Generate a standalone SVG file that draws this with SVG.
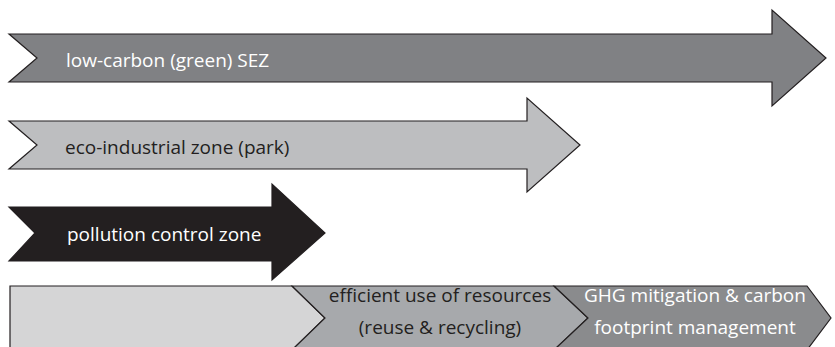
<svg xmlns="http://www.w3.org/2000/svg" width="835" height="347" viewBox="0 0 835 347">
<style>
.s{stroke:#231f20;stroke-width:1.2;stroke-linejoin:miter}
.t{font-family:"Open Sans","Noto Sans",sans-serif;font-size:19px}
.w{fill:#ffffff}
.d{fill:#231f20}
</style>
<rect width="835" height="347" fill="#ffffff"/>
<g id="arrow-lowcarbon">
<path class="s" fill="#808184" d="M9,34 H772 V10 L826,58 L772,106 V82 H9 L37,58 Z"/>
<text class="t w" x="66" y="67">low-carbon (green) SEZ</text>
</g>
<g id="arrow-ecoindustrial">
<path class="s" fill="#bdbec0" d="M9,121 H527 V98 L580,145 L527,192 V169 H9 L37,145 Z"/>
<text class="t d" x="65" y="154">eco-industrial zone (park)</text>
</g>
<g id="arrow-pollution">
<path class="s" fill="#231f20" d="M9,207 H272 V184 L325,233 L272,280 V261 H9 L35,233 Z"/>
<text class="t w" x="67" y="241">pollution control zone</text>
</g>
<g id="bar-base">
<path class="s" fill="#d5d5d6" d="M10,286 H292 L325,318 L292,350 H10 Z"/>
</g>
<g id="bar-efficient">
<path class="s" fill="#a7a9ac" d="M292,286 H554 L588,318 L554,350 H292 L325,318 Z"/>
<text class="t d" x="440" y="302" text-anchor="middle">efficient use of resources</text>
<text class="t d" x="440" y="334" text-anchor="middle">(reuse &amp; recycling)</text>
</g>
<g id="bar-ghg">
<path class="s" fill="#8a8b8d" d="M554,286 H807 L831,318 L807,350 H554 L588,318 Z"/>
<text class="t w" x="695" y="302" text-anchor="middle">GHG mitigation &amp; carbon</text>
<text class="t w" x="695" y="334" text-anchor="middle">footprint management</text>
</g>
<g id="connectors"></g>
</svg>
